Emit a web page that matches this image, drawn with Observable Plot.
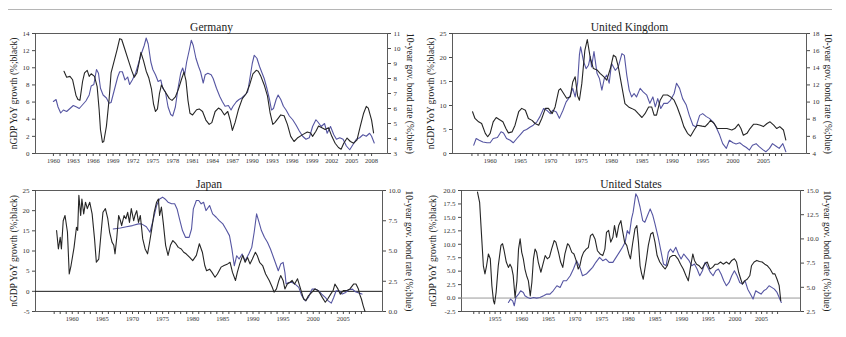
<!DOCTYPE html>
<html><head><meta charset="utf-8">
<script src="https://cdn.jsdelivr.net/npm/d3@7"></script>
<script src="https://cdn.jsdelivr.net/npm/@observablehq/plot@0.6"></script>
<style>
html,body{margin:0;padding:0;background:#fff;}
#wrap{position:relative;width:846px;height:337px;overflow:hidden;background:#fff;}
#wrap svg{position:absolute;left:0;top:0;}
#rule{position:absolute;left:8px;top:9px;width:824px;height:0;border-top:1px solid #b5b5b5;}
</style></head><body>
<div id="wrap"><div id="rule"></div></div>
<script>
// ---------- labels ----------
const leftLabel = "nGDP YoY growth (%;black)";
const rightLabel = "10-year gov. bond rate (%;blue)";
const titles = ["Germany", "United Kingdom", "Japan", "United States"];

// ---------- tick labels ----------
const deYearLabels = [1960,1963,1966,1969,1972,1975,1978,1981,1984,1987,1990,1993,1996,1999,2002,2005,2008];
const fiveYearLabels = [1960,1965,1970,1975,1980,1985,1990,1995,2000,2005];
const usYearLabels = [1955,1960,1965,1970,1975,1980,1985,1990,1995,2000,2005];
const deLeftTicks = [0,2,4,6,8,10,12,14];
const deRightTicks = [3,4,5,6,7,8,9,10,11];
const ukLeftTicks = [0,5,10,15,20,25];
const ukRightTicks = [4,6,8,10,12,14,16,18];
const jpLeftTicks = [-5,0,5,10,15,20,25];
const jpRightTicks = [0,2.5,5,7.5,10];
const usLeftTicks = [-2.5,0,2.5,5,7.5,10,12.5,15,17.5,20];
const usRightTicks = [2.5,5,7.5,10,12.5,15];

// ---------- Germany ----------
const deGdp = [[1961.6,9.6],[1962.0,8.9],[1962.5,9.0],[1962.9,8.6],[1963.4,6.8],[1963.7,6.3],[1964.0,6.2],[1964.4,8.4],[1964.7,9.4],[1965.1,9.7],[1965.4,9.0],[1965.7,9.3],[1966.2,9.0],[1966.6,7.8],[1966.9,5.1],[1967.1,2.8],[1967.4,1.3],[1967.6,1.4],[1968.0,3.2],[1968.4,6.3],[1968.7,9.4],[1969.2,10.9],[1969.6,12.1],[1970.0,13.4],[1970.3,13.3],[1970.8,12.1],[1971.3,10.9],[1971.8,9.7],[1972.2,8.9],[1972.6,9.4],[1972.9,10.5],[1973.2,11.8],[1973.6,10.8],[1974.0,9.6],[1974.4,8.8],[1974.8,7.5],[1975.1,5.8],[1975.4,4.9],[1975.7,5.2],[1976.0,7.0],[1976.3,8.0],[1976.7,7.4],[1977.1,6.9],[1977.5,6.4],[1977.9,6.2],[1978.4,6.6],[1978.9,7.6],[1979.3,8.6],[1979.7,9.5],[1980.0,8.5],[1980.3,6.2],[1980.6,4.7],[1981.0,4.5],[1981.6,5.1],[1982.0,5.2],[1982.5,4.9],[1983.0,3.9],[1983.5,3.4],[1983.9,3.6],[1984.4,4.9],[1984.9,5.3],[1985.3,5.1],[1985.8,4.5],[1986.3,4.9],[1986.7,3.8],[1987.0,2.7],[1987.4,3.6],[1987.9,5.1],[1988.5,6.4],[1989.1,7.0],[1989.6,8.0],[1990.1,9.3],[1990.6,9.7],[1990.9,9.6],[1991.3,9.0],[1991.8,8.0],[1992.3,6.7],[1992.7,4.7],[1993.1,3.4],[1993.4,3.6],[1993.9,4.1],[1994.3,4.5],[1994.8,4.4],[1995.3,3.4],[1995.8,2.0],[1996.3,1.4],[1996.8,1.8],[1997.6,2.2],[1998.3,2.5],[1998.8,2.4],[1999.1,2.0],[1999.6,2.6],[2000.0,3.2],[2000.5,3.0],[2001.0,2.8],[2001.5,3.0],[2002.0,2.0],[2002.5,1.2],[2003.0,0.7],[2003.4,0.5],[2003.8,1.2],[2004.3,1.8],[2004.8,1.4],[2005.3,1.2],[2005.8,1.6],[2006.3,3.2],[2006.8,4.7],[2007.2,5.5],[2007.5,5.3],[2008.0,3.9],[2008.3,2.4]];
const deBond = [[1960.0,6.47],[1960.4,6.6],[1960.7,6.1],[1961.1,5.7],[1961.5,5.9],[1962.0,5.8],[1962.5,6.0],[1963.0,6.2],[1963.5,6.1],[1963.9,6.0],[1964.4,6.25],[1964.9,6.5],[1965.4,6.9],[1965.7,7.5],[1966.1,7.6],[1966.5,8.6],[1966.8,8.35],[1967.1,7.35],[1967.5,6.9],[1968.0,6.7],[1968.4,6.35],[1968.7,6.4],[1969.2,7.25],[1969.7,8.1],[1970.0,8.45],[1970.4,8.45],[1970.8,7.9],[1971.2,8.1],[1971.5,7.6],[1971.9,7.9],[1972.4,8.35],[1972.9,9.1],[1973.3,9.7],[1973.7,10.2],[1974.0,10.7],[1974.3,10.3],[1974.7,9.1],[1975.0,8.6],[1975.4,8.25],[1975.8,7.8],[1976.2,7.9],[1976.5,7.35],[1976.9,7.1],[1977.3,6.1],[1977.7,5.6],[1978.0,5.5],[1978.4,6.1],[1978.8,7.35],[1979.2,8.35],[1979.5,8.7],[1979.8,8.25],[1980.1,9.1],[1980.5,9.9],[1980.8,10.55],[1981.1,10.2],[1981.5,9.35],[1981.9,8.8],[1982.2,8.45],[1982.6,7.7],[1982.9,8.25],[1983.3,8.35],[1983.8,8.25],[1984.1,8.0],[1984.6,7.35],[1985.1,6.8],[1985.5,6.45],[1985.9,6.15],[1986.4,6.2],[1986.8,5.9],[1987.1,6.15],[1987.6,6.45],[1988.0,6.6],[1988.4,6.7],[1988.9,6.9],[1989.3,7.1],[1989.6,7.9],[1990.0,9.0],[1990.3,9.55],[1990.7,9.35],[1991.1,8.8],[1991.4,8.45],[1991.8,8.0],[1992.2,7.35],[1992.6,6.6],[1992.9,5.9],[1993.2,6.0],[1993.6,6.6],[1993.9,6.9],[1994.3,6.6],[1994.7,6.15],[1995.1,5.9],[1995.6,5.5],[1996.1,5.25],[1996.6,4.9],[1997.1,4.5],[1997.6,4.15],[1998.1,3.95],[1998.6,4.05],[1999.1,4.8],[1999.6,5.25],[1999.9,5.1],[2000.4,4.8],[2000.9,5.0],[2001.3,4.35],[2001.8,4.8],[2002.3,4.25],[2002.7,3.95],[2003.2,4.05],[2003.7,3.95],[2004.2,3.5],[2004.7,3.25],[2005.2,3.6],[2005.7,3.95],[2006.2,4.05],[2006.7,4.25],[2007.2,4.15],[2007.7,4.35],[2008.0,4.15],[2008.4,3.7]];

// ---------- United Kingdom ----------
const ukGdp = [[1957.1,8.7],[1957.5,7.3],[1958.1,6.6],[1958.6,6.25],[1959.2,4.2],[1959.6,3.5],[1960.0,4.2],[1960.5,6.6],[1961.0,7.5],[1961.5,7.1],[1962.1,6.6],[1962.6,5.2],[1963.0,4.3],[1963.6,4.5],[1964.1,5.9],[1964.7,8.7],[1965.2,9.4],[1965.8,9.0],[1966.3,7.3],[1966.9,6.9],[1967.4,6.25],[1968.0,5.9],[1968.5,7.3],[1969.1,9.4],[1969.6,9.4],[1970.2,8.3],[1970.7,9.7],[1971.3,13.2],[1971.6,13.5],[1972.1,12.5],[1972.6,11.5],[1973.2,11.8],[1973.6,14.9],[1974.0,16.0],[1974.4,12.0],[1974.7,11.1],[1975.1,14.6],[1975.6,21.5],[1976.0,23.75],[1976.5,19.8],[1977.0,17.7],[1977.6,17.4],[1978.1,16.7],[1978.7,16.0],[1979.2,15.3],[1979.8,17.7],[1980.3,20.5],[1980.7,20.1],[1981.1,18.1],[1981.7,13.9],[1982.2,10.4],[1982.8,9.7],[1983.3,9.4],[1983.9,9.0],[1984.4,8.3],[1985.0,7.5],[1985.5,8.3],[1986.1,9.7],[1986.6,9.7],[1987.0,8.0],[1987.4,8.0],[1988.0,11.1],[1988.5,12.2],[1989.2,12.2],[1989.7,11.8],[1990.3,11.1],[1990.8,9.7],[1991.4,7.6],[1991.9,5.6],[1992.5,4.2],[1993.0,3.6],[1993.6,4.9],[1994.1,5.9],[1994.9,5.7],[1995.4,5.6],[1995.9,6.25],[1996.3,6.9],[1996.9,6.25],[1997.4,5.2],[1998.1,5.2],[1999.0,5.2],[1999.8,4.9],[2000.3,5.2],[2000.9,6.1],[2001.3,5.2],[2001.7,3.8],[2002.3,4.2],[2002.8,5.2],[2003.4,6.1],[2003.9,6.1],[2004.5,5.9],[2005.0,5.6],[2005.6,6.25],[2006.1,6.6],[2006.7,5.9],[2007.2,5.2],[2007.7,5.6],[2008.3,4.9],[2008.7,2.8]];
const ukBond = [[1957.3,4.97],[1957.7,5.75],[1958.2,5.55],[1958.8,5.35],[1959.5,5.25],[1960.0,5.25],[1960.5,5.75],[1961.2,5.87],[1961.8,6.53],[1962.2,6.4],[1962.7,5.75],[1963.3,5.55],[1963.8,5.25],[1964.4,5.75],[1964.9,6.15],[1965.5,6.65],[1966.0,6.8],[1966.6,7.1],[1967.1,7.3],[1967.7,7.7],[1968.2,8.3],[1968.8,9.25],[1969.3,9.05],[1969.9,8.65],[1970.3,9.05],[1970.9,8.85],[1971.4,8.1],[1972.0,9.05],[1972.5,10.0],[1973.1,10.6],[1973.6,11.6],[1974.0,10.6],[1974.4,12.2],[1974.7,15.5],[1974.9,16.45],[1975.4,14.7],[1975.8,13.9],[1976.2,14.3],[1976.5,15.3],[1976.7,14.1],[1977.1,15.9],[1977.6,13.35],[1978.0,12.75],[1978.4,11.4],[1978.8,12.75],[1979.2,13.15],[1979.6,12.2],[1980.0,14.5],[1980.6,13.7],[1981.1,14.1],[1981.7,15.65],[1982.1,15.45],[1982.5,13.15],[1982.9,11.4],[1983.3,10.6],[1983.7,11.0],[1984.1,10.6],[1984.7,11.6],[1985.2,11.2],[1985.8,10.8],[1986.3,9.85],[1986.8,10.6],[1987.2,9.45],[1987.6,10.4],[1988.1,9.25],[1988.6,9.85],[1989.2,9.85],[1989.7,10.2],[1990.3,11.0],[1990.7,12.2],[1991.2,11.6],[1991.7,10.4],[1992.3,9.65],[1992.8,8.45],[1993.4,7.3],[1993.9,7.1],[1994.5,8.45],[1995.0,8.65],[1995.6,8.3],[1996.1,8.1],[1996.7,7.7],[1997.2,7.1],[1997.8,6.15],[1998.3,5.15],[1998.9,4.6],[1999.4,5.55],[2000.0,5.25],[2000.5,5.1],[2001.1,5.25],[2001.6,4.97],[2002.2,4.7],[2002.7,4.4],[2003.2,4.97],[2003.8,5.15],[2004.3,4.8],[2004.9,4.45],[2005.4,4.2],[2006.0,4.6],[2006.5,5.15],[2007.1,4.85],[2007.6,4.6],[2008.2,5.15],[2008.7,4.2]];

// ---------- Japan ----------
const jpGdp = [[1957.4,15.1],[1957.7,10.5],[1958.0,13.4],[1958.2,10.5],[1958.5,17.5],[1958.8,18.8],[1959.2,14.7],[1959.5,4.3],[1959.8,6.4],[1960.3,10.9],[1960.7,15.9],[1960.9,15.1],[1961.1,23.8],[1961.4,18.8],[1961.6,22.9],[1961.9,19.2],[1962.2,22.1],[1962.5,20.5],[1962.9,22.1],[1963.3,19.2],[1963.7,13.0],[1964.0,7.2],[1964.4,8.0],[1964.8,14.7],[1965.1,19.6],[1965.5,20.5],[1965.9,18.0],[1966.2,14.7],[1966.6,12.2],[1966.9,11.4],[1967.1,9.3],[1967.4,13.4],[1967.7,18.8],[1968.0,17.5],[1968.2,16.3],[1968.6,18.8],[1968.9,18.0],[1969.2,19.6],[1969.5,17.1],[1969.8,20.5],[1970.2,17.5],[1970.4,18.8],[1970.7,20.0],[1971.0,17.1],[1971.3,18.8],[1971.7,13.0],[1972.1,10.5],[1972.5,9.3],[1972.8,11.8],[1973.2,15.5],[1973.6,19.6],[1974.0,22.1],[1974.3,22.9],[1974.5,18.8],[1974.8,20.9],[1975.1,17.1],[1975.5,11.4],[1975.9,8.9],[1976.3,11.4],[1976.7,12.6],[1977.2,11.8],[1977.6,10.9],[1978.1,10.5],[1978.5,9.7],[1978.9,9.3],[1979.5,8.4],[1980.0,7.6],[1980.6,8.9],[1981.1,11.8],[1981.6,9.7],[1982.0,6.4],[1982.3,5.1],[1982.8,5.5],[1983.2,4.7],[1983.7,3.5],[1984.1,4.3],[1984.7,6.0],[1985.2,6.4],[1985.8,6.8],[1986.2,7.2],[1986.6,4.7],[1987.1,2.7],[1987.4,4.7],[1987.8,6.8],[1988.3,8.9],[1988.7,7.2],[1989.1,8.4],[1989.5,6.8],[1989.9,8.0],[1990.4,9.7],[1990.7,8.9],[1991.1,7.2],[1991.6,6.4],[1992.1,4.3],[1992.7,2.7],[1993.2,1.0],[1993.5,-0.2],[1993.9,0.6],[1994.3,2.7],[1994.6,3.9],[1995.0,2.7],[1995.3,0.6],[1995.7,1.8],[1996.1,2.2],[1996.5,2.7],[1996.9,1.8],[1997.4,3.1],[1997.9,0.6],[1998.4,-1.9],[1998.8,-2.3],[1999.2,-1.1],[1999.8,-0.2],[2000.3,0.6],[2000.8,0.2],[2001.2,-0.7],[2001.5,-1.5],[2002.0,-2.7],[2002.4,-1.9],[2002.9,-0.7],[2003.3,0.2],[2003.6,1.8],[2004.1,0.6],[2004.5,-0.7],[2005.0,0.2],[2005.6,0.2],[2006.1,0.6],[2006.7,1.8],[2007.1,1.8],[2007.5,0.6],[2007.7,-0.7],[2008.0,-1.9],[2008.3,-3.6],[2008.6,-5.0]];
const jpBond = [[1966.8,6.82],[1968.0,6.9],[1969.0,7.0],[1970.0,7.1],[1971.0,7.24],[1971.5,7.24],[1972.3,7.0],[1972.9,6.55],[1973.4,7.5],[1974.0,8.76],[1974.5,9.3],[1975.0,9.45],[1975.4,9.3],[1975.9,9.03],[1976.5,8.9],[1977.0,8.9],[1977.4,8.48],[1977.8,7.65],[1978.3,6.69],[1978.8,6.13],[1979.4,6.13],[1979.8,6.82],[1980.1,8.48],[1980.6,9.17],[1981.0,9.17],[1981.4,8.9],[1981.8,9.03],[1982.2,8.34],[1982.8,8.76],[1983.3,8.07],[1983.9,7.79],[1984.4,7.51],[1985.0,7.24],[1985.5,6.82],[1986.1,6.27],[1986.5,5.17],[1986.9,3.78],[1987.3,4.61],[1987.7,4.34],[1988.2,4.75],[1988.7,4.2],[1989.3,4.75],[1989.8,5.3],[1990.2,6.55],[1990.6,8.07],[1991.0,7.38],[1991.4,6.69],[1991.9,6.13],[1992.4,5.72],[1992.9,5.17],[1993.5,4.34],[1993.9,3.78],[1994.2,3.37],[1994.6,3.92],[1995.0,4.06],[1995.3,3.23],[1995.5,2.27],[1995.9,2.4],[1996.5,2.4],[1997.0,2.27],[1997.6,1.99],[1998.1,1.3],[1998.7,0.88],[1999.2,1.16],[1999.8,1.85],[2000.3,1.85],[2000.9,1.71],[2001.4,1.44],[2002.0,1.16],[2002.5,0.88],[2003.0,0.69],[2003.4,1.16],[2003.8,1.71],[2004.3,1.71],[2004.8,1.44],[2005.4,1.58],[2005.9,1.8],[2006.5,1.85],[2007.0,1.63],[2007.6,1.52],[2008.1,1.44]];

// ---------- United States ----------
const usGdp = [[1951.7,19.7],[1952.1,17.8],[1952.5,11.0],[1952.8,6.0],[1953.1,4.5],[1953.4,6.0],[1953.75,8.2],[1954.1,7.3],[1954.4,2.3],[1954.7,-0.5],[1954.9,-1.1],[1955.2,1.1],[1955.6,6.0],[1956.1,9.8],[1956.4,10.1],[1956.7,8.8],[1957.1,6.7],[1957.5,5.7],[1957.8,6.3],[1958.1,5.7],[1958.4,4.2],[1958.75,0.1],[1959.1,3.2],[1959.4,9.1],[1959.7,11.0],[1960.0,8.5],[1960.3,7.3],[1960.6,5.4],[1960.9,4.2],[1961.25,3.2],[1961.6,0.4],[1961.9,2.9],[1962.2,7.3],[1962.5,9.1],[1962.8,8.5],[1963.1,6.7],[1963.6,4.8],[1963.9,6.0],[1964.4,7.9],[1964.8,7.3],[1965.2,7.6],[1965.6,9.1],[1966.1,10.7],[1966.4,10.4],[1966.9,8.5],[1967.3,6.7],[1967.7,5.7],[1968.1,8.2],[1968.6,10.1],[1968.9,9.8],[1969.4,8.5],[1969.8,8.2],[1970.2,7.0],[1970.6,5.4],[1970.9,6.0],[1971.25,7.6],[1971.6,8.5],[1972.1,9.1],[1972.5,9.4],[1972.9,11.6],[1973.3,11.9],[1973.75,11.0],[1974.2,8.8],[1974.7,8.2],[1975.2,7.9],[1975.6,9.1],[1975.9,12.2],[1976.3,12.6],[1976.7,10.4],[1977.1,11.3],[1977.4,13.5],[1977.8,11.3],[1978.2,13.5],[1978.6,14.4],[1978.9,12.6],[1979.3,10.4],[1979.7,9.8],[1980.1,8.2],[1980.4,7.3],[1980.8,10.1],[1981.25,12.9],[1981.6,13.5],[1981.9,10.4],[1982.2,6.0],[1982.5,4.5],[1982.8,3.5],[1983.1,5.4],[1983.4,7.3],[1983.75,9.8],[1984.2,11.9],[1984.6,12.2],[1985.0,10.4],[1985.4,7.9],[1985.9,6.7],[1986.4,6.0],[1986.9,5.4],[1987.3,6.0],[1987.8,7.6],[1988.3,7.9],[1988.8,7.9],[1989.3,7.3],[1989.8,6.3],[1990.3,5.4],[1990.8,4.2],[1991.25,3.2],[1991.7,6.0],[1992.1,8.2],[1992.4,7.0],[1992.8,6.3],[1993.3,6.0],[1993.8,5.4],[1994.3,6.3],[1994.8,6.7],[1995.3,5.4],[1995.8,5.7],[1996.3,6.3],[1996.8,6.3],[1997.3,6.7],[1997.8,6.3],[1998.4,6.7],[1998.9,6.3],[1999.4,7.0],[1999.9,7.3],[2000.3,6.7],[2000.7,4.8],[2001.1,3.5],[2001.4,2.6],[2001.8,3.2],[2002.3,3.5],[2002.8,4.2],[2003.1,6.0],[2003.6,6.7],[2004.1,7.0],[2004.6,6.8],[2005.1,6.7],[2005.6,6.3],[2006.1,6.0],[2006.6,5.4],[2007.1,4.5],[2007.5,4.5],[2007.9,3.5],[2008.3,2.3],[2008.6,-0.5]];
const usBond = [[1957.5,3.43],[1957.9,3.78],[1958.3,3.6],[1958.6,3.09],[1958.9,3.95],[1959.4,4.3],[1959.8,4.64],[1960.3,4.47],[1960.6,4.12],[1961.1,3.95],[1961.6,3.85],[1962.2,3.95],[1962.8,3.88],[1963.4,3.95],[1964.1,4.12],[1964.7,4.3],[1965.3,4.3],[1965.9,4.64],[1966.6,5.16],[1967.2,4.99],[1967.8,5.68],[1968.4,5.68],[1969.1,6.19],[1969.7,6.89],[1970.3,7.75],[1970.9,7.06],[1971.4,6.19],[1972.1,6.37],[1972.7,6.71],[1973.3,7.06],[1973.9,7.58],[1974.6,8.09],[1975.2,7.75],[1975.8,7.92],[1976.4,7.58],[1977.1,7.58],[1977.7,8.09],[1978.3,8.61],[1978.9,9.13],[1979.4,9.65],[1979.8,10.86],[1980.2,10.51],[1980.6,12.07],[1980.9,12.76],[1981.4,14.65],[1981.75,14.3],[1982.2,13.27],[1982.7,11.89],[1983.1,11.72],[1983.6,12.41],[1984.1,13.1],[1984.6,12.41],[1985.0,11.55],[1985.6,10.17],[1986.1,8.78],[1986.6,7.4],[1987.1,7.23],[1987.5,8.61],[1987.9,8.96],[1988.4,8.61],[1988.9,9.13],[1989.4,8.44],[1989.9,7.92],[1990.4,8.44],[1990.9,8.09],[1991.4,7.75],[1991.9,7.23],[1992.4,7.4],[1992.9,6.89],[1993.4,6.19],[1993.9,6.71],[1994.4,7.58],[1994.9,7.06],[1995.4,6.54],[1995.9,6.19],[1996.4,6.71],[1996.9,6.89],[1997.4,6.37],[1997.9,5.68],[1998.4,5.16],[1998.9,5.5],[1999.4,6.19],[1999.9,6.71],[2000.4,6.19],[2000.9,5.5],[2001.4,5.33],[2001.9,5.68],[2002.4,4.81],[2002.9,4.3],[2003.4,3.78],[2003.9,4.64],[2004.4,4.47],[2004.9,4.3],[2005.4,4.64],[2005.9,4.81],[2006.4,5.16],[2006.9,4.99],[2007.4,4.81],[2007.9,4.47],[2008.3,3.95],[2008.7,3.43]];

// ---------- drawing ----------
const W = 846, H = 337;
const FONT = "'Liberation Serif', 'Times New Roman', 'DejaVu Serif', serif";
const fmtInt = v => (v < 0 ? "-" : "") + Math.abs(Math.round(v));
const fmtDec = v => (v < -1e-9 ? "-" : "") + Math.abs(v).toFixed(1);

function panel(p) {
  const toL = r => p.lo + (r - p.rlo) * (p.hi - p.lo) / (p.rhi - p.rlo);
  const fromL = v => p.rlo + (v - p.lo) * (p.rhi - p.rlo) / (p.hi - p.lo);
  const lf = p.dec ? fmtDec : fmtInt;
  const rf = p.rdec ? fmtDec : fmtInt;
  const minor = d3.range(p.t0, p.t1 + 1);
  const marks = [
    Plot.frame({stroke: "#4a4a4a", strokeWidth: 0.9}),
    Plot.axisY(p.lt, {anchor: "left", tickSize: 3, tickPadding: 3, tickFormat: lf, label: null, fontSize: 7, stroke: "#4a4a4a"}),
    Plot.axisY(p.rt.map(toL), {anchor: "right", tickSize: 3, tickPadding: 3, tickFormat: d => rf(fromL(d)), label: null, fontSize: 7, stroke: "#4a4a4a"}),
    Plot.axisX(minor, {anchor: "bottom", tickSize: 3, tickFormat: () => "", label: null, stroke: "#4a4a4a"}),
    Plot.axisX(p.xl, {anchor: "bottom", tickSize: 0, tickPadding: 5, tickFormat: d => String(d), label: null, fontSize: 6.5})
  ];
  if (p.zero) marks.push(Plot.ruleY([0], {stroke: p.zero, strokeWidth: 1}));
  marks.push(
    Plot.line(p.blue, {x: d => d[0], y: d => toL(d[1]), stroke: "#5656a2", strokeWidth: 1.1}),
    Plot.line(p.black, {x: d => d[0], y: d => d[1], stroke: "#262626", strokeWidth: 1.1}),
    Plot.text([p.title], {text: d => d, frameAnchor: "top", textAnchor: "middle", lineAnchor: "bottom", dy: -3, fontSize: 11.5, fill: "#222"}),
    Plot.text([leftLabel], {text: d => d, frameAnchor: "left", textAnchor: "middle", lineAnchor: "middle", rotate: -90, dx: -p.ldx, fontSize: 9.5, fill: "#222"}),
    Plot.text([rightLabel], {text: d => d, frameAnchor: "right", textAnchor: "middle", lineAnchor: "middle", rotate: 90, dx: p.rdx, fontSize: 9.5, fill: "#222"})
  );
  const svg = Plot.plot({
    width: W, height: H,
    marginLeft: p.x0, marginRight: W - p.x1, marginTop: p.y0, marginBottom: H - p.y1,
    x: {domain: p.xd},
    y: {domain: [p.lo, p.hi]},
    style: {background: "transparent", fontFamily: FONT, fontSize: "7px", color: "#333"},
    marks
  });
  svg.style.background = "transparent";
  svg.style.position = "absolute";
  svg.style.left = "0px";
  svg.style.top = "0px";
  document.getElementById("wrap").appendChild(svg);
}

panel({title: titles[0], black: deGdp, blue: deBond, x0: 35, x1: 387, y0: 33, y1: 153,
  xd: [1957.3, 2010.4], t0: 1960, t1: 2008, xl: deYearLabels,
  lo: 0, hi: 14, rlo: 3, rhi: 11, lt: deLeftTicks, rt: deRightTicks, dec: false, rdec: false, ldx: 22, rdx: 23});
panel({title: titles[1], black: ukGdp, blue: ukBond, x0: 452, x1: 806, y0: 33, y1: 153,
  xd: [1953.8, 2012.1], t0: 1957, t1: 2008, xl: fiveYearLabels,
  lo: 0, hi: 25, rlo: 4, rhi: 18, lt: ukLeftTicks, rt: ukRightTicks, dec: false, rdec: false, ldx: 22, rdx: 22});
panel({title: titles[2], black: jpGdp, blue: jpBond, x0: 35, x1: 382, y0: 190, y1: 311,
  xd: [1953.9, 2011.5], t0: 1957, t1: 2008, xl: fiveYearLabels, zero: "#1a1a1a",
  lo: -5, hi: 25, rlo: 0, rhi: 10, lt: jpLeftTicks, rt: jpRightTicks, dec: false, rdec: true, ldx: 22, rdx: 27});
panel({title: titles[3], black: usGdp, blue: usBond, x0: 461, x1: 800, y0: 190, y1: 311,
  xd: [1948.7, 2012.3], t0: 1951, t1: 2008, xl: usYearLabels, zero: "#9a9a9a",
  lo: -2.5, hi: 20, rlo: 2.5, rhi: 15, lt: usLeftTicks, rt: usRightTicks, dec: true, rdec: true, ldx: 29, rdx: 27});
</script>
</body></html>
